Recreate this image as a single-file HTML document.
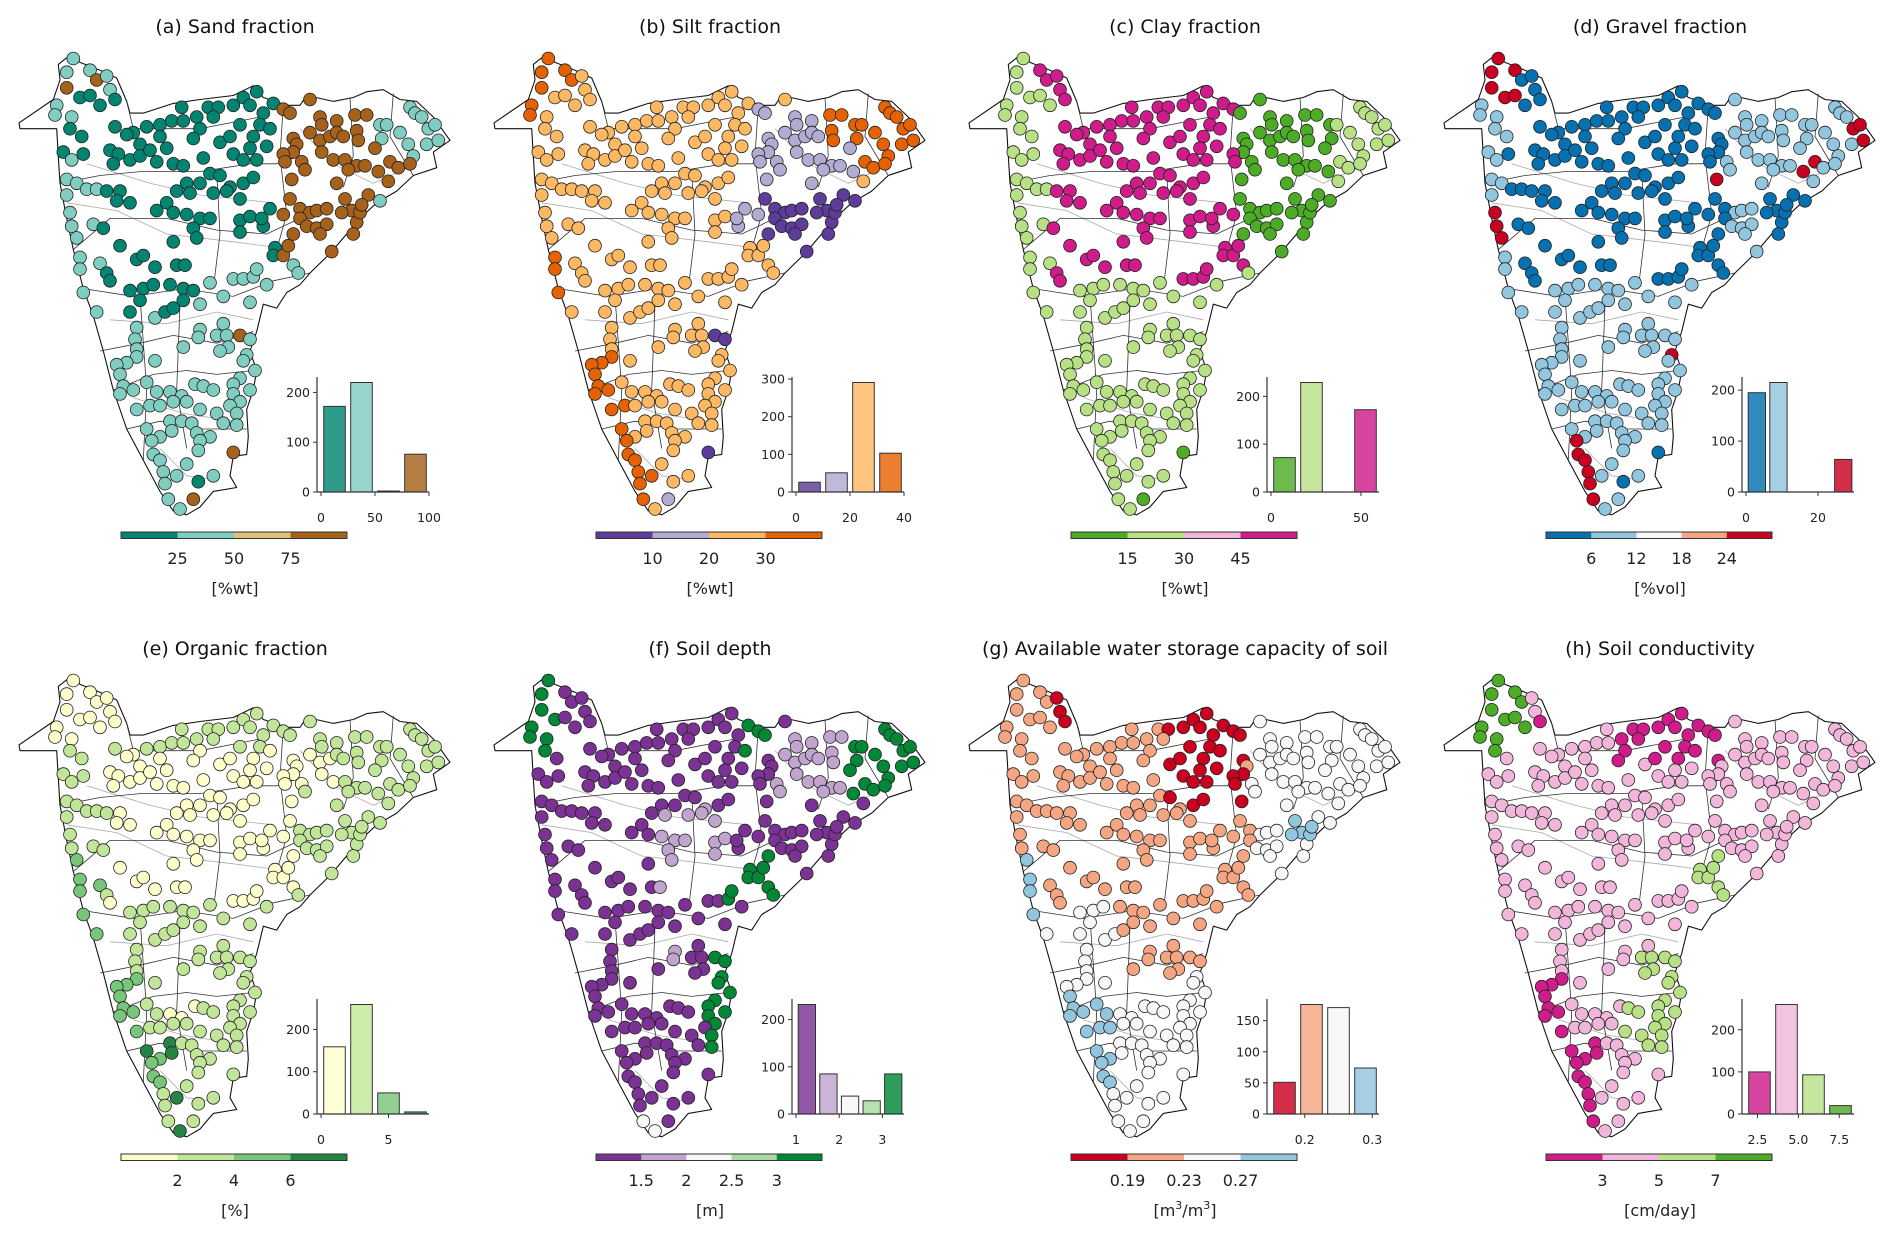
<!DOCTYPE html>
<html><head><meta charset="utf-8"><title>Soil properties</title>
<style>
html,body{margin:0;padding:0;background:#fff;}
svg{display:block;font-family:"DejaVu Sans","Liberation Sans",sans-serif;}
</style></head>
<body>
<svg id="fig" xmlns="http://www.w3.org/2000/svg" width="1892" height="1239" viewBox="0 0 1892 1239"></svg>
<script>
// ---------- histogram data ----------
const sandBins=[0,25,50,75,100], sandCounts=[172,220,2,76], sandXTicks=[0,50,100], sandYTicks=[0,100,200];
const siltBins=[0,10,20,30,40], siltCounts=[26,51,291,103], siltXTicks=[0,20,40], siltYTicks=[0,100,200,300];
const clayBins=[0,15,30,45,60], clayCounts=[72,229,0,172], clayXTicks=[0,50], clayYTicks=[0,100,200];
const gravelBins=[0,6,12,18,24,30], gravelCounts=[195,215,0,0,64], gravelXTicks=[0,20], gravelYTicks=[0,100,200];
const orgBins=[0,2,4,6,8], orgCounts=[159,259,50,5], orgXTicks=[0,5], orgYTicks=[0,100,200];
const depthBins=[1,1.5,2,2.5,3,3.5], depthCounts=[232,85,38,28,85], depthXTicks=[1,2,3], depthYTicks=[0,100,200];
const awcBins=[0.15,0.19,0.23,0.27,0.31], awcCounts=[51,176,171,74], awcXTicks=[0.2,0.3], awcYTicks=[0,50,100,150];
const condBins=[1.8,3.45,5.1,6.75,8.4], condCounts=[100,260,93,20], condXTicks=[2.5,5.0,7.5], condYTicks=[0,100,200];
const condXTickLabels=["2.5","5.0","7.5"];
// ---------- colorbar tick labels ----------
const sandCbTicks=["25","50","75"], siltCbTicks=["10","20","30"], clayCbTicks=["15","30","45"], gravelCbTicks=["6","12","18","24"];
const orgCbTicks=["2","4","6"], depthCbTicks=["1.5","2","2.5","3"], awcCbTicks=["0.19","0.23","0.27"], condCbTicks=["3","5","7"];
// ---------- station locations (map units) ----------
const stations=[[220,150],[200,185],[270,180],[290,205],[320,195],[200,225],[240,250],[270,245],[330,230],[345,255],[170,270],[300,270],[165,295],[215,300],
[210,330],[245,350],[345,325],[400,340],[440,325],[480,320],[515,310],[545,275],[590,300],[625,275],[655,275],[700,270],[730,250],[770,235],[750,270],[790,290],[820,265],[850,280],[870,290],[780,320],[760,350],[810,330],[720,320],[640,300],[600,330],[550,310],[480,350],[420,370],[380,345],[330,385],[355,395],[390,410],[420,400],[450,385],[470,415],[500,380],[520,420],[550,425],[610,405],[660,365],[700,395],[730,410],[750,380],[770,410],[800,375],[690,350],[580,355],[340,420],[190,390],[250,395],[215,410],[200,460],[230,470],[260,485],[290,485],[320,490],[360,490],[390,520],[200,500],[350,515],[470,540],[500,520],[530,490],[560,470],[600,470],[630,445],[660,450],[690,480],[730,470],[760,455],[640,495],[680,490],[720,510],[570,495],[520,545],[560,550],[600,560],[630,560],[580,585],[720,565],[750,555],[790,580],[720,595],[210,545],[215,580],[230,610],[280,575],[310,585],[360,630],[410,665],[430,655],[465,685],[520,620],[590,610],[530,680],[555,680],[240,660],[240,690],[300,675],[320,700],[330,720],[390,745],[430,740],[460,730],[510,730],[550,740],[580,745],[600,780],[630,725],[700,715],[730,715],[760,710],[800,730],[770,690],[825,635],[820,655],[850,655],[880,680],[895,700],[670,760],[750,775],[250,750],[290,800],[390,800],[420,770],[465,815],[495,800],[520,790],[550,770],
[930,255],[960,300],[1010,310],[965,320],[930,340],[960,360],[990,350],[1010,340],[1030,350],[1070,335],[1075,360],[880,355],[890,370],[880,390],[850,395],[855,415],[905,415],[915,435],[875,460],[965,390],[1000,410],[1035,410],[1065,295],[1100,295],[1140,320],[1160,320],[1145,355],[1125,380],[1200,340],[1225,370],[1230,275],[1245,290],[1265,300],[1285,330],[1305,320],[1280,370],[1315,360],[1240,400],[1070,425],[1095,425],[1135,440],[1170,415],[1195,430],[1230,420],[1165,465],[1010,470],[1045,435],[1105,500],[1140,515],[1035,510],[1055,540],[1070,570],[1080,545],[1085,525],[1025,545],[870,510],[900,535],[930,545],[950,540],[980,535],[900,560],[920,580],[950,585],[980,575],[880,600],[960,600],[1060,600],[995,645],[810,535],[850,550],[785,560],[865,630],
[720,860],[650,860],[600,845],[595,865],[670,830],[680,860],[685,890],[660,900],[750,870],[740,910],[730,925],[765,950],[720,970],[700,985],[750,1000],[550,890],[410,840],[405,870],[410,895],[410,915],[380,930],[350,935],[360,960],[465,925],[370,990],[400,1000],[440,980],[470,1005],[510,1005],[545,1015],[585,985],[610,990],[640,1000],[700,1010],[720,1030],[360,1010],[410,1050],[450,1040],[480,1040],[520,1030],[560,1030],[600,1050],[650,1060],[690,1040],[710,1060],[510,1080],[545,1080],[575,1085],[670,1085],[710,1090],[440,1100],[480,1120],[515,1105],[590,1110],[630,1120],[600,1130],[455,1130],[460,1165],[480,1180],[490,1210],[495,1240],[505,1280],[540,1305],[595,1235],[580,1280],[560,1190],[530,1220],[640,1220],[700,1160],[595,1155]];
// ---------- class zones per panel [x0,y0,x1,y1,class] ----------
const sandDefault=1, sandZones=[[160,230,900,800,0],[150,120,390,300,1],[240,235,360,275,0],[150,400,300,830,1],[600,680,900,810,1],[840,250,1130,670,3],[1040,400,1260,480,3],[1130,250,1400,400,1],[190,200,230,240,3],[270,190,310,215,3],[700,840,740,880,3],[680,1140,720,1180,3],[560,1260,600,1300,3],[580,1220,610,1250,0]];
const siltDefault=2, siltZones=[[150,120,300,240,3],[150,250,200,300,3],[850,280,1150,480,1],[780,500,900,620,1],[870,480,1150,660,0],[1150,250,1400,440,3],[1060,280,1180,360,3],[340,900,420,1060,3],[400,1040,470,1140,3],[440,1130,530,1320,3],[230,640,280,770,3],[720,850,760,880,0],[690,1150,720,1175,0],[570,1270,610,1300,1]];
const clayDefault=1, clayZones=[[300,230,880,720,3],[870,250,1150,670,0],[150,240,300,1320,1],[1150,250,1400,460,1],[260,170,340,240,3],[700,1150,740,1190,0],[570,1270,610,1300,0]];
const gravelDefault=1, gravelZones=[[250,230,900,720,0],[900,250,1150,460,1],[150,120,280,260,4],[280,120,390,320,0],[150,540,260,620,4],[230,990,300,1050,4],[420,1130,520,1320,4],[1270,280,1370,360,4],[1100,390,1180,440,4],[1000,480,1150,600,0],[700,880,780,920,4],[860,420,900,460,4],[580,1220,610,1250,0],[690,1150,720,1175,0]];
const orgDefault=1, orgZones=[[150,120,390,320,0],[330,330,880,720,0],[840,330,1000,420,0],[150,600,300,820,2],[330,900,420,1080,2],[420,1080,480,1320,2],[430,1090,470,1120,3],[500,1070,530,1130,3],[520,1200,560,1230,3],[520,1280,560,1320,3],[500,980,600,1020,0]];
const depthDefault=0, depthZones=[[150,120,260,330,4],[800,230,900,330,4],[1100,250,1400,460,4],[900,260,1100,460,1],[550,480,780,700,1],[750,600,900,720,4],[900,480,1150,660,0],[700,860,780,1100,4],[560,800,620,900,1],[500,1280,560,1320,2]];
const awcDefault=2, awcZones=[[150,230,900,720,1],[650,230,880,470,0],[300,150,390,280,0],[150,120,300,330,1],[1000,500,1100,560,3],[150,600,260,830,3],[300,950,480,1320,3],[500,600,800,900,1]];
const condDefault=1, condZones=[[560,230,900,360,0],[250,250,420,300,0],[150,120,300,330,3],[800,600,900,700,2],[330,900,420,1080,0],[420,1080,520,1320,0],[600,850,800,1100,2],[1280,400,1320,450,2]];
// ---------- map geometry (map units) ----------
const outline=[[57,315],[160,255],[180,205],[175,165],[215,138],[240,160],[300,180],[350,200],[380,260],[390,290],[430,290],[520,265],[600,255],[700,245],[760,220],[790,250],[860,270],[900,270],[920,245],[1000,260],[1060,250],[1100,235],[1150,230],[1200,255],[1250,260],[1300,300],[1350,360],[1300,390],[1310,430],[1240,450],[1190,490],[1130,520],[1080,560],[1040,600],[990,650],[930,700],[900,730],[860,750],[830,790],[790,780],[770,850],[750,900],[770,950],[760,1000],[740,1050],[745,1120],[740,1165],[700,1170],[690,1220],[710,1250],[640,1260],[600,1300],[560,1320],[520,1310],[480,1260],[430,1180],[380,1100],[340,1000],[310,900],[280,810],[250,740],[220,640],[200,560],[180,470],[175,400],[170,330],[60,330]];
const borders=[[[180,470],[300,450],[420,440],[600,440],[750,420],[830,420],[900,400]],[[220,640],[330,560],[500,560],[650,590],[800,600],[900,560]],[[250,740],[400,760],[550,740],[700,760],[820,720],[930,700]],[[300,900],[420,880],[520,860],[650,880],[760,850]],[[340,1000],[460,960],[560,950],[650,960],[760,950]],[[540,780],[530,1000],[560,1150]],[[850,270],[840,400],[860,550],[830,640]],[[1050,250],[1060,400],[1030,480]],[[1180,240],[1170,350],[1240,450]],[[380,1100],[480,1080],[600,1100],[740,1100]],[[380,260],[400,330],[600,330],[780,300]],[[650,440],[660,600],[640,740]],[[420,760],[440,1000],[430,1180]]];
const rivers=[[[200,520],[350,540],[500,600],[700,620],[880,640]],[[260,420],[450,470],[600,500],[820,520]],[[330,820],[500,830],[650,800],[760,820]],[[400,1020],[550,1060],[700,1080]],[[900,330],[1000,420],[1120,470],[1250,420]],[[480,1150],[560,1220],[650,1230]]];

const NS='http://www.w3.org/2000/svg';
const svg=document.getElementById('fig');
function el(tag,attrs,parent){const e=document.createElementNS(NS,tag);for(const k in attrs)e.setAttribute(k,attrs[k]);(parent||svg).appendChild(e);return e;}

const panels=[
 {key:'sand',title:'(a) Sand fraction',unit:'[%wt]',colors:['#018571','#80cdc1','#dfc27d','#a6611a'],bins:sandBins,counts:sandCounts,xt:sandXTicks,yt:sandYTicks,cb:sandCbTicks,def:sandDefault,zones:sandZones},
 {key:'silt',title:'(b) Silt fraction',unit:'[%wt]',colors:['#5e3c99','#b2abd2','#fdb863','#e66101'],bins:siltBins,counts:siltCounts,xt:siltXTicks,yt:siltYTicks,cb:siltCbTicks,def:siltDefault,zones:siltZones},
 {key:'clay',title:'(c) Clay fraction',unit:'[%wt]',colors:['#4dac26','#b8e186','#f1b6da','#d01c8b'],bins:clayBins,counts:clayCounts,xt:clayXTicks,yt:clayYTicks,cb:clayCbTicks,def:clayDefault,zones:clayZones},
 {key:'gravel',title:'(d) Gravel fraction',unit:'[%vol]',colors:['#0571b0','#92c5de','#f7f7f7','#f4a582','#ca0020'],bins:gravelBins,counts:gravelCounts,xt:gravelXTicks,yt:gravelYTicks,cb:gravelCbTicks,def:gravelDefault,zones:gravelZones},
 {key:'organic',title:'(e) Organic fraction',unit:'[%]',colors:['#ffffcc','#c2e699','#78c679','#238443'],bins:orgBins,counts:orgCounts,xt:orgXTicks,yt:orgYTicks,cb:orgCbTicks,def:orgDefault,zones:orgZones},
 {key:'depth',title:'(f) Soil depth',unit:'[m]',colors:['#7b3294','#c2a5cf','#f7f7f7','#a6dba0','#008837'],bins:depthBins,counts:depthCounts,xt:depthXTicks,yt:depthYTicks,cb:depthCbTicks,def:depthDefault,zones:depthZones},
 {key:'awc',title:'(g) Available water storage capacity of soil',unit:'m3',colors:['#ca0020','#f4a582','#f7f7f7','#92c5de'],bins:awcBins,counts:awcCounts,xt:awcXTicks,yt:awcYTicks,cb:awcCbTicks,def:awcDefault,zones:awcZones},
 {key:'conductivity',title:'(h) Soil conductivity',unit:'[cm/day]',colors:['#d01c8b','#f1b6da','#b8e186','#4dac26'],bins:condBins,counts:condCounts,xt:condXTicks,xtl:condXTickLabels,yt:condYTicks,cb:condCbTicks,def:condDefault,zones:condZones}
];

panels.forEach((p,i)=>{
  const ox=(i%4)*475, oy=Math.floor(i/4)*622;
  const g=el('g',{});
  
  
  const mx=v=>ox+v/3, my=v=>oy+v*0.39;
  const t=el('text',{x:ox+235,y:oy+33,'text-anchor':'middle','font-size':'19',fill:'#111'},g);
  t.textContent=p.title;
  
  
  const mg=el('g',{},g);
  
  
  const op=el('polygon',{points:outline.map(q=>mx(q[0]).toFixed(1)+','+my(q[1]).toFixed(1)).join(' '),fill:'#fff',stroke:'#111','stroke-width':'1.1','stroke-linejoin':'round'},mg);
  
  
  rivers.forEach(r=>{const l=el('polyline',{points:r.map(q=>mx(q[0]).toFixed(1)+','+my(q[1]).toFixed(1)).join(' '),fill:'none',stroke:'#aaa','stroke-width':'0.8'},mg);
    
    });
  borders.forEach(r=>{const l=el('polyline',{points:r.map(q=>mx(q[0]).toFixed(1)+','+my(q[1]).toFixed(1)).join(' '),fill:'none',stroke:'#333','stroke-width':'0.8'},mg);
    
    });
  stations.forEach(s=>{
    let c=p.def;
    p.zones.forEach(z=>{if(s[0]>=z[0]&&s[0]<=z[2]&&s[1]>=z[1]&&s[1]<=z[3])c=z[4];});
    const d=el('circle',{cx:mx(s[0]).toFixed(1),cy:my(s[1]).toFixed(1),r:'6.4',fill:p.colors[c],stroke:'#222','stroke-width':'0.8'},mg);
    
    
  });
  const hg=el('g',{},g);
  
  
  const xmin=p.bins[0], xmax=p.bins[p.bins.length-1];
  const hx=v=>ox+321+(v-xmin)/(xmax-xmin)*108;
  const base=oy+492, top=oy+377, ymax=Math.max(...p.counts)*1.05;
  const hy=v=>base-(v/ymax)*(base-top);
  p.counts.forEach((c,k)=>{
    if(c<=0)return;
    const b0=p.bins[k], b1=p.bins[k+1], w=(b1-b0)*0.8, cx=(b0+b1)/2;
    const r=el('rect',{x:hx(cx-w/2).toFixed(1),y:hy(c).toFixed(1),width:(hx(cx+w/2)-hx(cx-w/2)).toFixed(1),height:Math.max(0.8,base-hy(c)).toFixed(1),fill:p.colors[Math.min(k,p.colors.length-1)],'fill-opacity':'0.82',stroke:'#333','stroke-width':'1'},hg);
    
    
  });
  const ya=el('line',{x1:ox+317,y1:top,x2:ox+317,y2:base,stroke:'#333','stroke-width':'1.2'},hg);
  
  
  const xa=el('line',{x1:ox+317,y1:base,x2:ox+429,y2:base,stroke:'#333','stroke-width':'1.2'},hg);
  
  
  p.yt.forEach(v=>{
    el('line',{x1:ox+313,y1:hy(v),x2:ox+317,y2:hy(v),stroke:'#333','stroke-width':'1'},hg);
    const tt=el('text',{x:ox+310,y:hy(v)+4.5,'text-anchor':'end','font-size':'12.5',fill:'#222'},hg);
    tt.textContent=String(v);
    
    
  });
  p.xt.forEach((v,k)=>{
    el('line',{x1:hx(v),y1:base,x2:hx(v),y2:base+4,stroke:'#333','stroke-width':'1'},hg);
    const tt=el('text',{x:hx(v),y:base+30,'text-anchor':'middle','font-size':'12.5',fill:'#222'},hg);
    tt.textContent=p.xtl?p.xtl[k]:String(v);
    
    
  });
  const cg=el('g',{},g);
  
  
  const n=p.colors.length, cw=226/n;
  p.colors.forEach((c,k)=>{
    const r=el('rect',{x:ox+121+k*cw,y:oy+532,width:cw+0.3,height:6.5,fill:c},cg);
    
    
  });
  el('rect',{x:ox+121,y:oy+532,width:226,height:6.5,fill:'none',stroke:'#333','stroke-width':'1'},cg);
  p.cb.forEach((lab,k)=>{
    const tt=el('text',{x:ox+121+(k+1)*cw,y:oy+564,'text-anchor':'middle','font-size':'16',fill:'#222'},cg);
    tt.textContent=lab;
    
    
  });
  const u=el('text',{x:ox+235,y:oy+594,'text-anchor':'middle','font-size':'16',fill:'#222'},cg);
  
  
  if(p.unit==='m3'){
    u.innerHTML='[m<tspan font-size="11" dy="-7">3</tspan><tspan dy="7">/m</tspan><tspan font-size="11" dy="-7">3</tspan><tspan dy="7">]</tspan>';
  } else u.textContent=p.unit;
});
</script>
</body></html>
